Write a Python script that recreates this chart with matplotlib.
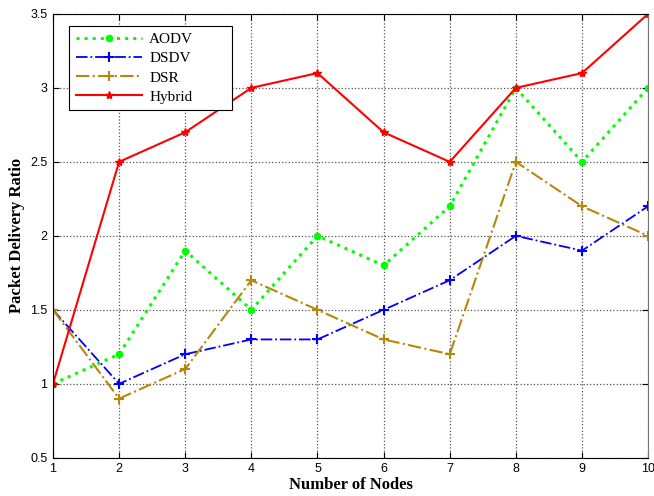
import numpy as np
import matplotlib
matplotlib.use("Agg")
import matplotlib.pyplot as plt

nodes = [1, 2, 3, 4, 5, 6, 7, 8, 9, 10]
aodv = [1.0, 1.2, 1.9, 1.5, 2.0, 1.8, 2.2, 3.0, 2.5, 3.0]
dsdv = [1.5, 1.0, 1.2, 1.3, 1.3, 1.5, 1.7, 2.0, 1.9, 2.2]
dsr = [1.5, 0.9, 1.1, 1.7, 1.5, 1.3, 1.2, 2.5, 2.2, 2.0]
hybrid = [1.0, 2.5, 2.7, 3.0, 3.1, 2.7, 2.5, 3.0, 3.1, 3.5]
yticks = [0.5, 1, 1.5, 2, 2.5, 3, 3.5]
ytick_labels = ["0.5", "1", "1.5", "2", "2.5", "3", "3.5"]

fig = plt.figure(figsize=(6.54, 4.96), dpi=100)
ax = fig.add_axes([0.081, 0.077, 0.910, 0.895])

ax.plot(nodes, aodv, color="#00ff00", linestyle=":", linewidth=2.2,
        marker="o", markersize=4.5, label="AODV")
ax.plot(nodes, dsdv, color="blue", linestyle="-.", linewidth=1.3,
        marker="+", markersize=7, markeredgewidth=1.5, label="DSDV")
ax.plot(nodes, dsr, color="#b8860b", linestyle="-.", linewidth=1.5,
        marker="+", markersize=7, markeredgewidth=1.5, label="DSR")
ax.plot(nodes, hybrid, color="red", linestyle="-", linewidth=1.5,
        marker="*", markersize=6, label="Hybrid")

ax.set_xlim(1, 10)
ax.set_ylim(0.5, 3.5)
ax.set_xticks(nodes)
ax.set_yticks(yticks)
ax.set_yticklabels(ytick_labels)
for lbl in ax.get_xticklabels() + ax.get_yticklabels():
    lbl.set_fontfamily("Liberation Sans")
    lbl.set_fontsize(9)
ax.tick_params(direction="in", length=4, pad=4, right=True, top=True)
ax.grid(True, linestyle=":", color="#555555", linewidth=0.9)
ax.spines["right"].set_color("#777777")

ax.set_xlabel("Number of Nodes", fontfamily="Liberation Serif",
              fontweight="bold", fontsize=12, labelpad=1)
ax.set_ylabel("Packet Delivery Ratio", fontfamily="Liberation Serif",
              fontweight="bold", fontsize=12, labelpad=4)

leg = ax.legend(loc="upper left", bbox_to_anchor=(0.027, 0.784, 0.274, 0.189),
                mode="expand", borderaxespad=0,
                prop={"family": "Liberation Serif", "size": 11},
                fancybox=False, edgecolor="black", framealpha=1,
                handlelength=4.3, handletextpad=0.5, borderpad=0.45,
                labelspacing=0.35)
leg.get_frame().set_linewidth(0.8)

fig.savefig("out.png", dpi=100)
